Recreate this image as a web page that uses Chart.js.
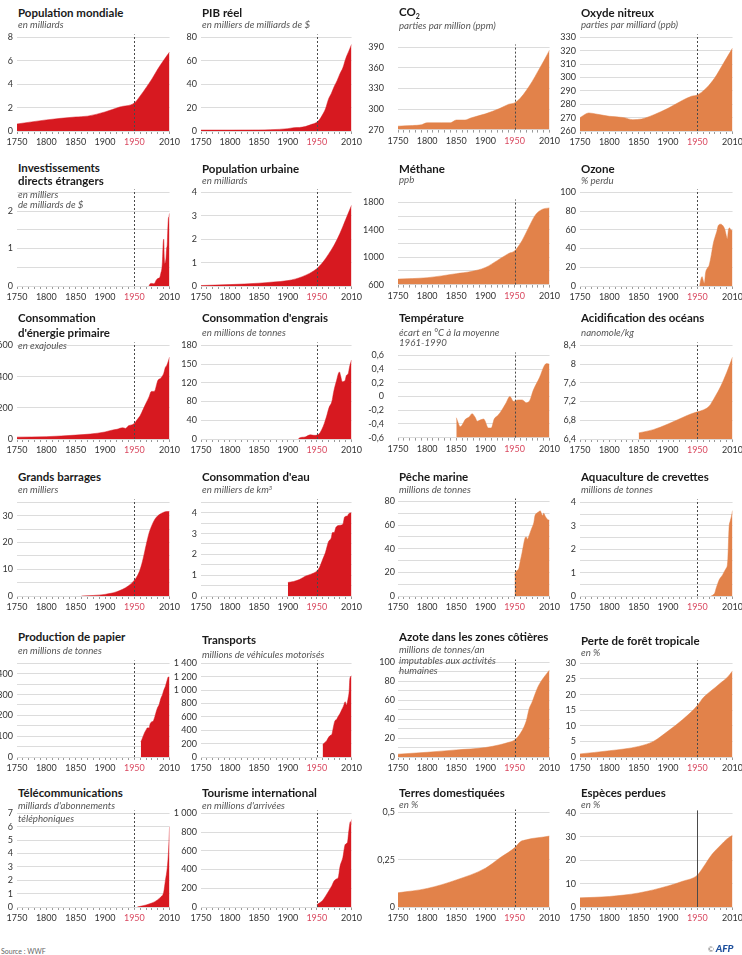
<!DOCTYPE html>
<html lang="fr">
<head>
<meta charset="utf-8">
<title>Anthropocène : 24 indicateurs</title>
<script src="https://cdn.jsdelivr.net/npm/chart.js@4.4.1/dist/chart.umd.min.js"></script>
<style>
  html, body { margin: 0; padding: 0; background: #fff; }
  #page { position: relative; width: 742px; height: 955px; overflow: hidden; font-family: Lato, "Open Sans", sans-serif; }
  #page canvas { position: absolute; }
  .t { position: absolute; white-space: nowrap; transform: translateY(-50%); line-height: 1; }
  .title { font-weight: 700; font-size: 11.5px; color: #1a1a1a; }
  .sub { font-style: italic; font-size: 9.7px; color: #555; }
  .title sub { font-size: 7px; vertical-align: -3px; }
  .sub sup { font-size: 6px; vertical-align: 3px; }
  .source { font-size: 7px; color: #666; }
  .afp { font-weight: 900; font-style: italic; font-size: 10px; color: #1d4f9c; }
</style>
</head>
<body>
<div id="page"></div>
<script>
/* DATA : [année, valeur] */
const yearLabels = [1750, 1800, 1850, 1900, 1950, 2010];

const populationMondiale = [[1750,0.6],[1800,0.95],[1850,1.2],[1870,1.27],[1900,1.63],[1925,2.05],[1950,2.4],[1960,3.0],[1970,3.7],[1980,4.45],[1990,5.3],[2000,6.05],[2010,6.75]];
const pibReel = [[1750,0.8],[1800,0.8],[1850,0.9],[1870,1.1],[1900,2.0],[1910,2.8],[1920,3.0],[1930,3.8],[1940,5.5],[1950,7.5],[1955,10],[1960,14],[1965,19],[1970,27],[1975,32],[1980,38],[1985,43],[1990,49],[1995,54],[2000,62],[2005,68],[2010,74]];
const co2 = [[1750,275],[1775,276],[1790,277],[1800,280],[1825,280],[1840,280],[1850,284],[1865,284],[1875,287],[1900,293],[1925,301],[1940,307],[1950,309],[1960,316],[1970,327],[1980,340],[1990,355],[2000,370],[2010,386]];
const oxydeNitreux = [[1750,270],[1765,273.5],[1780,272.5],[1800,271],[1825,270],[1840,268.5],[1855,269],[1875,272],[1900,277],[1925,283],[1940,286],[1950,287],[1965,292],[1980,300],[1995,311],[2010,322]];

const investissements = [[1975,0],[1977,0.06],[1980,0.07],[1983,0.06],[1985,0.08],[1987,0.15],[1990,0.2],[1993,0.22],[1995,0.33],[1997,0.48],[1998,0.7],[1999,1.1],[2000,1.25],[2001,0.75],[2002,0.6],[2003,0.65],[2004,0.75],[2005,1.0],[2006,1.1],[2007,1.5],[2008,1.8],[2009,1.85],[2010,1.94]];
const populationUrbaine = [[1750,0.02],[1800,0.06],[1850,0.12],[1875,0.17],[1900,0.23],[1925,0.4],[1950,0.74],[1960,1.0],[1970,1.35],[1980,1.75],[1990,2.25],[2000,2.85],[2010,3.45]];
const methane = [[1750,680],[1800,700],[1850,760],[1875,790],[1900,850],[1920,950],[1940,1055],[1950,1090],[1955,1140],[1963,1245],[1974,1430],[1986,1620],[1998,1700],[2010,1720]];
const ozone = [[1954,0],[1955,4],[1958,10],[1960,6],[1962,3],[1964,14],[1967,19],[1970,22],[1974,34],[1977,45],[1980,52],[1983,58],[1986,65],[1990,66],[1994,64],[1997,60],[2000,52],[2001,50],[2003,60],[2005,62],[2007,60],[2010,59]];

const energiePrimaire = [[1750,12],[1800,15],[1850,25],[1875,32],[1900,45],[1910,55],[1920,62],[1930,72],[1935,68],[1940,85],[1945,90],[1950,100],[1955,125],[1960,150],[1965,190],[1970,230],[1975,270],[1979,305],[1982,305],[1985,310],[1988,350],[1990,375],[1995,390],[2000,420],[2003,460],[2005,470],[2008,500],[2010,525]];
const engrais = [[1918,0],[1920,2],[1930,4],[1939,8],[1945,7],[1952,8],[1959,19],[1963,30],[1967,44],[1971,60],[1976,72],[1979,90],[1981,100],[1984,112],[1987,125],[1989,129],[1991,122],[1994,110],[1997,111],[1999,113],[2001,122],[2004,125],[2007,141],[2010,152]];
const engraisTickText = ["0", "40", "80", "120", "150", "180"];
const temperature = [[1850,-0.31],[1857,-0.44],[1866,-0.33],[1872,-0.3],[1877,-0.25],[1882,-0.3],[1886,-0.36],[1892,-0.34],[1897,-0.33],[1905,-0.46],[1910,-0.46],[1915,-0.33],[1922,-0.27],[1928,-0.2],[1935,-0.1],[1942,0.0],[1948,-0.07],[1956,-0.05],[1963,-0.05],[1970,-0.09],[1976,-0.06],[1982,0.09],[1993,0.28],[2001,0.45],[2005,0.48],[2010,0.47]];
const acidification = [[1850,6.53],[1875,6.6],[1900,6.72],[1925,6.86],[1940,6.94],[1950,6.98],[1960,7.02],[1970,7.1],[1980,7.3],[1990,7.53],[2000,7.82],[2010,8.15]];

const grandsBarrages = [[1860,0],[1880,0.2],[1900,0.6],[1910,1.0],[1920,1.6],[1930,2.5],[1940,3.8],[1950,5.9],[1955,7.5],[1960,10],[1965,14],[1970,19],[1975,23.5],[1980,26.5],[1985,28.7],[1990,30],[2000,31.3],[2005,31.6],[2010,31.6]];
const consommationEau = [[1900,0.65],[1910,0.7],[1920,0.79],[1930,0.95],[1940,1.05],[1950,1.2],[1955,1.4],[1960,1.75],[1965,2.1],[1970,2.6],[1975,2.8],[1977,3.05],[1980,3.05],[1983,3.3],[1990,3.4],[1995,3.45],[1998,3.8],[2003,3.85],[2005,3.95],[2010,4.0]];
const pecheMarine = [[1950,17.7],[1953,21],[1957,23],[1960,30],[1963,37],[1968,49],[1970,50],[1972,48],[1974,50],[1977,54],[1980,58],[1983,62],[1985,68],[1988,70],[1991,71],[1994,72],[1996,70],[1998,68],[2000,70],[2003,67],[2006,65],[2010,64]];
const crevettes = [[1973,0],[1976,0.03],[1980,0.15],[1982,0.33],[1985,0.55],[1987,0.68],[1990,0.8],[1993,0.9],[1996,1.05],[1999,1.18],[2001,1.3],[2002,1.6],[2004,2.9],[2006,3.2],[2008,3.4],[2010,3.65]];

const papier = [[1961,72],[1963,85],[1965,100],[1968,120],[1970,130],[1972,140],[1975,140],[1977,160],[1980,170],[1982,172],[1985,195],[1988,225],[1990,240],[1992,250],[1995,280],[1998,300],[2000,320],[2003,340],[2005,360],[2008,385],[2010,384]];
const transports = [[1960,185],[1963,210],[1967,243],[1970,290],[1973,320],[1976,340],[1978,420],[1981,535],[1984,560],[1987,608],[1990,650],[1993,705],[1996,760],[1999,826],[2001,778],[2004,875],[2006,1000],[2007,1167],[2010,1215]];
const azote = [[1750,3],[1800,5],[1850,7.5],[1900,10],[1925,13],[1940,15.5],[1950,18],[1960,25],[1970,38],[1975,51],[1980,58],[1990,74],[2000,84],[2010,92]];
const foretTropicale = [[1750,1],[1800,2],[1850,3.4],[1875,5],[1900,8.3],[1925,12],[1950,16.5],[1960,19],[1970,20.7],[1980,22.2],[1990,23.8],[2000,25.3],[2010,27.6]];

const telecoms = [[1955,0],[1960,0.05],[1970,0.15],[1980,0.3],[1985,0.4],[1990,0.55],[1995,0.75],[2000,1.1],[2003,2.0],[2006,2.9],[2008,4.0],[2009,4.9],[2010,6.0]];
const tourisme = [[1950,25],[1955,45],[1960,70],[1965,115],[1970,165],[1976,228],[1980,280],[1984,300],[1987,316],[1990,430],[1995,530],[1999,667],[2003,691],[2005,800],[2008,912],[2009,880],[2010,935]];
const terresDomestiquees = [[1750,0.075],[1800,0.098],[1850,0.143],[1900,0.205],[1925,0.26],[1950,0.313],[1960,0.345],[1970,0.355],[1980,0.362],[2000,0.37],[2010,0.375]];
const especesPerdues = [[1750,3.9],[1800,4.5],[1850,6],[1900,9],[1925,11],[1950,13.6],[1960,17],[1975,22.5],[1990,26.5],[2000,29],[2010,30.7]];

/* LAYOUT */
const colPlot = [[17, 171], [201, 353], [398, 551], [580, 734]];
const rowTop = [36, 191, 344, 501, 662, 812];
const plotH = 95;
const AX = 40, PADR = 12, PADT = 8, XH = 18;
const RED = "#d71920";
const ORANGE = "#e2824a";
const YEAR_RED = "#d9485f";

// y: [min, max, pas de grille, pas des étiquettes]
const panels = [
  { row: 0, col: 0, data: populationMondiale, color: RED, y: [0, 8, 2, 2],
    text: [["Population mondiale", "title", 13], ["en milliards", "sub", 25]] },
  { row: 0, col: 1, data: pibReel, color: RED, y: [0, 80, 20, 20],
    text: [["PIB réel", "title", 13], ["en milliers de milliards de $", "sub", 25]] },
  { row: 0, col: 2, data: co2, color: ORANGE, y: [270, 390, 30, 30], gap: 14,
    text: [["CO<sub>2</sub>", "title", 13], ["parties par million (ppm)", "sub", 26]] },
  { row: 0, col: 3, data: oxydeNitreux, color: ORANGE, y: [260, 330, 10, 10],
    text: [["Oxyde nitreux", "title", 13], ["parties par milliard (ppb)", "sub", 25]] },

  { row: 1, col: 0, data: investissements, color: RED, y: [0, 2.5, 0.5, 1],
    text: [["Investissements", "title", 168], ["directs étrangers", "title", 181], ["en milliers", "sub", 195], ["de milliards de $", "sub", 205]] },
  { row: 1, col: 1, data: populationUrbaine, color: RED, y: [0, 4, 1, 1],
    text: [["Population urbaine", "title", 169], ["en milliards", "sub", 181]] },
  { row: 1, col: 2, data: methane, color: ORANGE, y: [600, 1800, 200, 400], gap: 14, plain: true,
    text: [["Méthane", "title", 169], ["ppb", "sub", 180]] },
  { row: 1, col: 3, data: ozone, color: ORANGE, y: [0, 100, 20, 20],
    text: [["Ozone", "title", 169], ["% perdu", "sub", 181]] },

  { row: 2, col: 0, data: energiePrimaire, color: RED, y: [0, 600, 200, 200],
    text: [["Consommation", "title", 318], ["d'énergie primaire", "title", 333], ["en exajoules", "sub", 346]] },
  { row: 2, col: 1, data: engrais, color: RED, y: [0, 180, 36, 36], tickText: engraisTickText,
    text: [["Consommation d'engrais", "title", 318], ["en millions de tonnes", "sub", 333]] },
  { row: 2, col: 2, data: temperature, color: ORANGE, y: [-0.6, 0.6, 0.2, 0.2], gap: 14,
    text: [["Température", "title", 318], ["écart en °C à la moyenne", "sub", 333], ["1961-1990", "sub", 343]] },
  { row: 2, col: 3, data: acidification, color: ORANGE, y: [6.4, 8.4, 0.4, 0.4],
    text: [["Acidification des océans", "title", 318], ["nanomole/kg", "sub", 333]] },

  { row: 3, col: 0, data: grandsBarrages, color: RED, y: [0, 35, 5, 10],
    text: [["Grands barrages", "title", 477], ["en milliers", "sub", 490]] },
  { row: 3, col: 1, data: consommationEau, color: RED, y: [0, 4.5, 0.5, 1],
    text: [["Consommation d'eau", "title", 477], ["en milliers de km<sup>3</sup>", "sub", 490]] },
  { row: 3, col: 2, data: pecheMarine, color: ORANGE, y: [0, 80, 10, 20], gap: 3,
    text: [["Pêche marine", "title", 477], ["millions de tonnes", "sub", 490]] },
  { row: 3, col: 3, data: crevettes, color: ORANGE, y: [0, 4, 0.5, 1],
    text: [["Aquaculture de crevettes", "title", 477], ["millions de tonnes", "sub", 490]] },

  { row: 4, col: 0, data: papier, color: RED, y: [0, 450, 50, 100],
    text: [["Production de papier", "title", 637], ["en millions de tonnes", "sub", 651]] },
  { row: 4, col: 1, data: transports, color: RED, y: [0, 1400, 200, 200],
    text: [["Transports", "title", 640], ["millions de véhicules motorisés", "sub", 655]] },
  { row: 4, col: 2, data: azote, color: ORANGE, y: [0, 100, 10, 20], gap: 3,
    text: [["Azote dans les zones côtières", "title", 637], ["millions de tonnes/an", "sub", 650], ["imputables aux activités", "sub", 661], ["humaines", "sub", 671]] },
  { row: 4, col: 3, data: foretTropicale, color: ORANGE, y: [0, 30, 5, 5],
    text: [["Perte de forêt tropicale", "title", 641], ["en %", "sub", 653]] },

  { row: 5, col: 0, data: telecoms, color: RED, y: [0, 7, 1, 1],
    text: [["Télécommunications", "title", 793], ["milliards d'abonnements", "sub", 806], ["téléphoniques", "sub", 819]] },
  { row: 5, col: 1, data: tourisme, color: RED, y: [0, 1000, 200, 200],
    text: [["Tourisme international", "title", 793], ["en millions d'arrivées", "sub", 806]] },
  { row: 5, col: 2, data: terresDomestiquees, color: ORANGE, y: [0, 0.5, 0.25, 0.25], gap: 3,
    text: [["Terres domestiquées", "title", 793], ["en %", "sub", 805]] },
  { row: 5, col: 3, data: especesPerdues, color: ORANGE, y: [0, 40, 10, 10], solid1950: true,
    text: [["Espèces perdues", "title", 793], ["en %", "sub", 805]] }
];

/* HELPERS */
const page = document.getElementById("page");

function fmt(v, plain) {
  const r = Math.round(v * 1000) / 1000;
  let [i, d] = String(Math.abs(r)).split(".");
  if (!plain && i.length > 3) i = i.slice(0, -3) + " " + i.slice(-3);
  return (r < 0 ? "-" : "") + i + (d ? "," + d : "");
}

function addText(html, cls, x, y) {
  const el = document.createElement("div");
  el.className = "t " + cls;
  el.innerHTML = html;
  el.style.left = x + "px";
  el.style.top = y + "px";
  page.appendChild(el);
}

const decadeTicks = [];
for (let v = 1750; v <= 2010; v += 10) decadeTicks.push(v);

/* 1950 LINE */
const line1950 = {
  id: "line1950",
  afterDatasetsDraw(chart, args, opts) {
    const x = Math.round(chart.scales.x.getPixelForValue(1950)) + 0.5;
    const { top, bottom } = chart.chartArea;
    const ctx = chart.ctx;
    ctx.save();
    ctx.strokeStyle = "#4a4a4a";
    ctx.lineWidth = 1;
    ctx.setLineDash(opts.solid ? [] : [2, 2]);
    ctx.beginPath();
    ctx.moveTo(x, bottom);
    ctx.lineTo(x, top - 3);
    ctx.stroke();
    ctx.restore();
  }
};

/* CHARTS */
panels.forEach(p => {
  const [plotL, plotR] = colPlot[p.col];
  const top = rowTop[p.row];
  const [yMin, yMax, gridStep, labelStep] = p.y;

  const cv = document.createElement("canvas");
  const w = AX + (plotR - plotL) + PADR;
  const h = PADT + plotH + XH;
  cv.width = w;
  cv.height = h;
  cv.style.left = (plotL - AX) + "px";
  cv.style.top = (top - PADT) + "px";
  cv.style.width = w + "px";
  cv.style.height = h + "px";
  page.appendChild(cv);

  p.text.forEach(([txt, cls, y]) => addText(txt, cls, plotL + 1, y));

  const yTicks = [];
  const n = Math.round((yMax - yMin) / gridStep);
  for (let i = 0; i <= n; i++) yTicks.push(yMin + i * gridStep);

  new Chart(cv, {
    type: "line",
    data: {
      datasets: [{
        data: p.data.map(([x, y]) => ({ x, y })),
        fill: "start",
        backgroundColor: p.color,
        borderColor: p.color,
        borderWidth: 0.5,
        pointRadius: 0,
        cubicInterpolationMode: "monotone"
      }]
    },
    options: {
      responsive: false,
      animation: false,
      events: [],
      devicePixelRatio: 1,
      layout: { padding: { top: PADT, right: PADR, left: 0, bottom: 0 } },
      plugins: {
        legend: { display: false },
        tooltip: { enabled: false },
        line1950: { solid: !!p.solid1950 }
      },
      scales: {
        x: {
          type: "linear",
          min: 1750,
          max: 2010,
          afterBuildTicks: s => { s.ticks = decadeTicks.map(v => ({ value: v })); },
          afterFit: s => { s.height = XH; },
          border: { display: false },
          grid: { drawOnChartArea: false, drawTicks: true, tickLength: 3, color: "#9a9a9a" },
          ticks: {
            autoSkip: false,
            maxRotation: 0,
            padding: 3,
            font: { family: "Lato", size: 9 },
            color: c => (c.tick && c.tick.value === 1950 ? YEAR_RED : "#333"),
            callback: v => (yearLabels.includes(v) ? String(v) : "")
          }
        },
        y: {
          min: yMin,
          max: yMax,
          afterBuildTicks: s => { s.ticks = yTicks.map(v => ({ value: v })); },
          afterFit: s => { s.width = AX; },
          border: { display: false },
          grid: { drawTicks: false, color: "#dcdcdc", lineWidth: 1 },
          ticks: {
            autoSkip: false,
            padding: p.gap !== undefined ? p.gap : 4,
            font: { family: "Lato", size: 9 },
            color: "#333",
            callback: (v, i) => {
              if (p.tickText) return p.tickText[i];
              const k = (v - yMin) / labelStep;
              return Math.abs(k - Math.round(k)) < 1e-6 ? fmt(v, p.plain) : "";
            }
          }
        }
      }
    },
    plugins: [line1950]
  });
});

addText("Source : WWF", "source", 1, 951);
addText("© <span class=\"afp\">AFP</span>", "source", 708, 948);
</script>
</body>
</html>
